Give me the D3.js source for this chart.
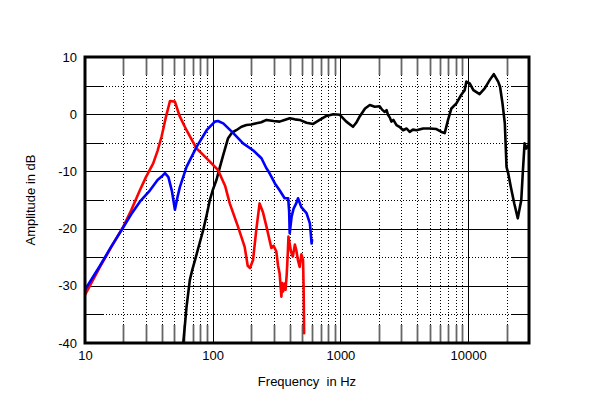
<!DOCTYPE html>
<html>
<head>
<meta charset="utf-8">
<script src="https://cdn.jsdelivr.net/npm/d3@7"></script>
<style>
  html, body { margin: 0; padding: 0; background: #fff; }
  svg { display: block; }
  text { font-family: "Liberation Sans", Arial, Helvetica, sans-serif; }
</style>
</head>
<body>
<svg id="chart" width="600" height="408"></svg>
<script>
// ---------- DATA ----------
const xTickValues = [10, 100, 1000, 10000];
const xTickLabels = ["10", "100", "1000", "10000"];
const yTickValues = [-40, -30, -20, -10, 0, 10];
const yTickLabels = ["-40", "-30", "-20", "-10", "0", "10"];

const redFreq = [10, 13.1, 16, 19.9, 23, 26.9, 30, 34.2, 37, 39.8, 43, 46.3, 50.6, 55, 62.4, 74.8, 85, 95, 110, 125, 136, 158, 178, 188, 196, 207, 220, 233, 248, 264, 288, 300, 315, 325, 334, 340, 345, 350, 356, 366, 372, 380, 388, 392, 400, 410, 424, 440, 451, 465, 480, 495, 510, 515, 520];
const redDb   = [-31.6, -26.7, -23.3, -19.7, -16.8, -13.3, -11.0, -8.6, -6.4, -3.9, -0.5, 2.3, 2.2, -0.3, -2.8, -6.0, -7.2, -8.3, -9.75, -12.5, -15.6, -19.7, -23.2, -26.5, -26.9, -25.5, -20, -15.6, -17.2, -19.7, -23.4, -23.0, -24, -26.5, -27.8, -30, -31.9, -29.5, -31, -29.6, -30.7, -28, -24, -21.4, -22.5, -24, -24.9, -22.8, -23.7, -25.5, -26.7, -24.5, -25.5, -30, -38.3];

const blueFreq = [10, 13.1, 16, 19.9, 23, 26.9, 32.3, 37, 39.8, 42.3, 45, 48, 50.6, 53, 55.4, 62.4, 74.8, 89.7, 104, 110, 121, 145, 173, 207, 241, 264, 272, 288, 307, 334, 366, 390, 397, 401, 415, 430, 451, 466, 493, 520, 543, 577, 595, 600];
const blueDb   = [-30.7, -26.5, -23.2, -19.8, -17.5, -15.3, -13.3, -11.5, -10.9, -10.3, -11, -13.5, -16.7, -14.5, -12.7, -9.2, -5.7, -2.8, -1.3, -1.2, -1.6, -3.3, -5.1, -6.3, -7.7, -9.5, -9.9, -10.9, -12.1, -13.3, -14.7, -14.7, -17, -20.8, -17.9, -16.5, -15.6, -14.7, -16.2, -16.8, -17.3, -19.1, -22.6, -22];

const blackFreq = [58.8, 60.5, 62.4, 66.2, 69.2, 72.7, 78, 84.4, 90, 95, 100, 107, 114, 121, 132, 142, 153, 168, 184, 200, 220, 240, 264, 300, 334, 365, 401, 440, 480, 543, 612, 688, 778, 880, 990, 1113, 1256, 1330, 1417, 1560, 1700, 1860, 2030, 2120, 2225, 2300, 2360, 2440, 2510, 2600, 2750, 2900, 3100, 3300, 3490, 3700, 3940, 4450, 5010, 5650, 6190, 6560, 6970, 7400, 8100, 8850, 9400, 9700, 10300, 11000, 12300, 13500, 14800, 15900, 17200, 17800, 18600, 19400, 20000, 20600, 21600, 23000, 24500, 26100, 26900, 27700, 28600, 29500];
const blackDb   = [-40, -37, -33.7, -29, -27.2, -25.5, -23, -20.2, -17.5, -15, -13.3, -11.5, -9.2, -7.1, -4.2, -3.2, -2.8, -2.2, -1.9, -1.8, -1.6, -1.4, -1.0, -1.2, -1.3, -1.0, -0.7, -0.9, -1.0, -1.5, -1.7, -1.0, -0.3, 0.0, -0.1, -1.3, -2.2, -1.5, -0.4, 1.0, 1.6, 1.3, 1.4, 0.8, 0.4, 0.7, -0.1, -0.6, -1.3, -1.0, -1.9, -2.2, -2.8, -2.5, -3.1, -2.7, -2.8, -2.5, -2.5, -2.6, -3.1, -3.3, -1.0, 1.0, 1.9, 3.4, 4.2, 5.7, 5.4, 4.2, 3.5, 4.5, 6.0, 7.0, 5.7, 4.8, 1.9, -1.6, -9.2, -10.3, -12.7, -15.6, -18.2, -15, -9.75, -5.1, -6.0, -5.5];

// ---------- LAYOUT ----------
const L = 85, R = 529, T = 57, B = 343;
const svg = d3.select("#chart");
const x = d3.scaleLog().domain([10, 30000]).range([L, R]);
const y = d3.scaleLinear().domain([-40, 10]).range([B, T]);
const tickLen = 18;

// minor x grid
const minorX = [];
for (let dec = 10; dec <= 10000; dec *= 10) {
  for (let m = 2; m <= 9; m++) { const v = dec * m; if (v < 30000) minorX.push(v); }
}
const g = svg.append("g");
g.selectAll(".mxd").data(minorX).join("line")
  .attr("x1", d => Math.round(x(d)) + 0.5).attr("x2", d => Math.round(x(d)) + 0.5)
  .attr("y1", T + tickLen).attr("y2", B - tickLen)
  .attr("stroke", "#000").attr("stroke-width", 1).attr("stroke-dasharray", "1,2");
g.selectAll(".mxt").data(minorX).join("line")
  .attr("x1", d => Math.round(x(d)) + 0.5).attr("x2", d => Math.round(x(d)) + 0.5)
  .attr("y1", T).attr("y2", T + tickLen)
  .attr("stroke", "#666").attr("stroke-width", 1.8);
g.selectAll(".mxb").data(minorX).join("line")
  .attr("x1", d => Math.round(x(d)) + 0.5).attr("x2", d => Math.round(x(d)) + 0.5)
  .attr("y1", B - tickLen).attr("y2", B)
  .attr("stroke", "#666").attr("stroke-width", 1.8);

// minor y grid
const minorY = [-35, -25, -15, -5, 5];
g.selectAll(".myd").data(minorY).join("line")
  .attr("x1", L + tickLen).attr("x2", R - tickLen)
  .attr("y1", d => Math.round(y(d)) + 0.5).attr("y2", d => Math.round(y(d)) + 0.5)
  .attr("stroke", "#000").attr("stroke-width", 1).attr("stroke-dasharray", "1,2");
g.selectAll(".myl").data(minorY).join("line")
  .attr("x1", L).attr("x2", L + tickLen)
  .attr("y1", d => Math.round(y(d)) + 0.5).attr("y2", d => Math.round(y(d)) + 0.5)
  .attr("stroke", "#000").attr("stroke-width", 1);
g.selectAll(".myr").data(minorY).join("line")
  .attr("x1", R - tickLen).attr("x2", R)
  .attr("y1", d => Math.round(y(d)) + 0.5).attr("y2", d => Math.round(y(d)) + 0.5)
  .attr("stroke", "#000").attr("stroke-width", 1);

// major grid
g.selectAll(".MX").data(xTickValues.slice(1)).join("line")
  .attr("x1", d => Math.round(x(d)) + 0.5).attr("x2", d => Math.round(x(d)) + 0.5)
  .attr("y1", T).attr("y2", B).attr("stroke", "#000").attr("stroke-width", 1);
g.selectAll(".MY").data(yTickValues.slice(1, -1)).join("line")
  .attr("x1", L).attr("x2", R)
  .attr("y1", d => Math.round(y(d)) + 0.5).attr("y2", d => Math.round(y(d)) + 0.5)
  .attr("stroke", "#000").attr("stroke-width", 1);

// curves
svg.append("clipPath").attr("id", "clip").append("rect")
  .attr("x", L).attr("y", T).attr("width", R - L).attr("height", B - T);
const line = d3.line().x(d => x(d[0])).y(d => y(d[1]));
const curves = [
  { f: blackFreq, v: blackDb, c: "#000000" },
  { f: redFreq, v: redDb, c: "#ff0000" },
  { f: blueFreq, v: blueDb, c: "#0000ff" }
];
const cg = svg.append("g").attr("clip-path", "url(#clip)");
curves.forEach(s => {
  cg.append("path")
    .attr("d", line(s.f.map((f, i) => [f, s.v[i]])))
    .attr("fill", "none").attr("stroke", s.c).attr("stroke-width", 2.6)
    .attr("stroke-linejoin", "round").attr("stroke-linecap", "round");
});

// frame
svg.append("rect").attr("x", L).attr("y", T).attr("width", R - L).attr("height", B - T)
  .attr("fill", "none").attr("stroke", "#000").attr("stroke-width", 3);

// axes (labels)
const xAxis = d3.axisBottom(x).tickValues(xTickValues)
  .tickFormat((d, i) => xTickLabels[i]).tickSize(0).tickPadding(8);
const xa = svg.append("g").attr("transform", `translate(0,${B})`).call(xAxis);
xa.select(".domain").remove();
xa.selectAll("text").attr("font-size", 13).attr("fill", "#000").attr("font-family", "Liberation Sans, Arial, sans-serif");

const yAxis = d3.axisLeft(y).tickValues(yTickValues)
  .tickFormat((d, i) => yTickLabels[i]).tickSize(0).tickPadding(8);
const ya = svg.append("g").attr("transform", `translate(${L},0)`).call(yAxis);
ya.select(".domain").remove();
ya.selectAll("text").attr("font-size", 13).attr("fill", "#000").attr("font-family", "Liberation Sans, Arial, sans-serif");

svg.append("text").attr("x", (L + R) / 2 + 0).attr("y", 386)
  .attr("text-anchor", "middle").attr("font-size", 13).text("Frequency  in Hz")
  .attr("xml:space", "preserve").style("white-space", "pre");
svg.append("text").attr("transform", `translate(35,${(T + B) / 2}) rotate(-90)`)
  .attr("text-anchor", "middle").attr("font-size", 13).text("Amplitude in dB");
</script>
</body>
</html>
